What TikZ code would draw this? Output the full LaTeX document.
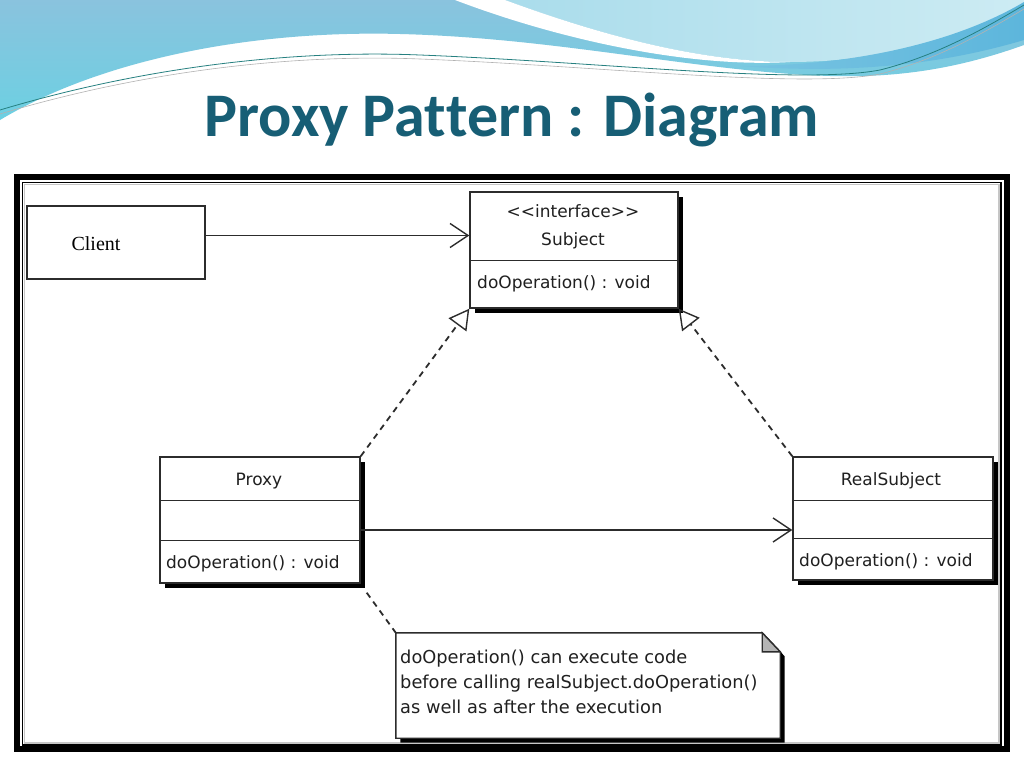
\documentclass[tikz,border=0pt]{standalone}
\usepackage{fontspec}
\setmainfont{DejaVu Sans}
\newfontfamily\titlefont{Carlito}
\newfontfamily\clientfont{Liberation Serif}
\usetikzlibrary{arrows.meta,shadows}

\definecolor{titleteal}{HTML}{175E75}
\definecolor{umlgray}{HTML}{2C2C2C}
\definecolor{umltext}{HTML}{202020}
\definecolor{wavetop}{HTML}{8AC3DE}
\definecolor{wavelow}{HTML}{6CD0E2}
\definecolor{wavelight}{HTML}{B7E3EE}
\definecolor{waveband}{HTML}{5DB6DC}
\definecolor{foldgray}{HTML}{B4B4B4}

\tikzset{
  classbox/.style={draw=umlgray, line width=1.4pt, fill=white, inner sep=0pt,
    general shadow={fill=black, shadow xshift=4.5pt, shadow yshift=-4.5pt}},
  plainbox/.style={draw=umlgray, line width=1.4pt, fill=white, inner sep=0pt},
  divider/.style={draw=umlgray, line width=1.4pt},
  classtext/.style={font=\fontsize{17}{19}\selectfont, text=umltext, inner sep=0pt},
  assoc/.style={draw=umlgray, line width=1.4pt, -{Straight Barb[length=18pt, width=24pt]}},
  realize/.style={draw=umlgray, line width=1.8pt, dash pattern=on 6pt off 5pt,
    -{Triangle[open, length=20pt, width=22pt, line width=1.4pt, sep=0pt]}},
  notelink/.style={draw=umlgray, line width=1.8pt, dash pattern=on 6pt off 5pt},
}

\begin{document}
\begin{tikzpicture}[x=1pt,y=-1pt]
\useasboundingbox (0,0) rectangle (1024,768);
% Background
\fill[white] (0,0) rectangle (1024,768);
\shade[top color=wavetop, bottom color=wavelow]
  (0,0) -- (1024,0) -- (1024,45) .. controls (960,68) and (900,78) .. (830,76)
  .. controls (700,72) and (560,38) .. (400,34)
  .. controls (250,30) and (100,60) .. (0,120) -- cycle;
\shade[left color=wavelight!85!waveband, right color=wavelight!70]
  (505,0) .. controls (600,35) and (700,62) .. (790,62)
  .. controls (890,62) and (970,35) .. (1024,5) -- (1024,0) -- cycle;
\fill[white] (455,0) -- (505,0) .. controls (600,35) and (700,62) .. (790,62)
  .. controls (690,68) and (560,40) .. (455,0) -- cycle;
\shade[left color=waveband!70!wavelight, right color=waveband]
  (740,66) .. controls (860,66) and (960,40) .. (1024,2) -- (1024,40)
  .. controls (950,62) and (860,75) .. (740,66) -- cycle;
% Thin swoosh lines
\draw[teal!70!gray, line width=0.8pt] (0,110) .. controls (150,65) and (300,50) .. (420,55)
  .. controls (600,62) and (800,85) .. (880,70) .. controls (940,55) and (990,25) .. (1024,5);
\draw[gray!60, line width=0.6pt] (0,114) .. controls (150,69) and (300,54) .. (420,59)
  .. controls (600,66) and (800,89) .. (880,74) .. controls (940,59) and (990,29) .. (1024,9);

% Title
\node[font=\titlefont\bfseries\fontsize{62}{66}\selectfont, text=titleteal, anchor=base]
  (title) at (512,136) {Proxy Pat\kern0pt tern : Diagram};

% Frame
\draw[line width=6pt] (17,177) rectangle (1007,749);
\draw[line width=1.4pt] (22.5,182.5) rectangle (1001,745);
\draw[gray!45, line width=1.5pt] (24.5,184.5) rectangle (999,743);

% Classes
\node[plainbox, minimum width=178pt, minimum height=73pt] (client) at (116,242.5) {};
\node[classbox, minimum width=208pt, minimum height=116pt] (subject) at (574,250) {};
\node[classbox, minimum width=200pt, minimum height=126pt] (proxy) at (260,520) {};
\node[classbox, minimum width=200pt, minimum height=123pt] (real) at (893,518.5) {};

% Compartments
\draw[divider] ([yshift=-69pt]subject.north west) -- ([yshift=-69pt]subject.north east);
\foreach \d in {44,84}
  \draw[divider] ([yshift=-\d pt]proxy.north west) -- ([yshift=-\d pt]proxy.north east);
\foreach \d in {44,82}
  \draw[divider] ([yshift=-\d pt]real.north west) -- ([yshift=-\d pt]real.north east);

% Class texts
\node[font=\clientfont\fontsize{20}{22}\selectfont, text=black, inner sep=0pt, anchor=base]
  (clientname) at (96,250) {Client};
\node[classtext, anchor=base] (subjstereo) at (573,217) {<\kern0pt<interface>\kern0pt>};
\node[classtext, anchor=base] (subjname) at (573,245) {Subject};
\node[classtext, anchor=base west] (subjop) at (477,288) {doOperation() : void};
\node[classtext, anchor=base] (proxyname) at (259,485) {Proxy};
\node[classtext, anchor=base west] (proxyop) at (166,568) {doOperation() : void};
\node[classtext, anchor=base] (realname) at (891,485) {RealSubject};
\node[classtext, anchor=base west] (realop) at (799,566) {doOperation() : void};

% Note
\node[minimum width=384pt, minimum height=105pt, inner sep=0pt] (note) at (588,685.5) {};
\fill[black] ([shift={(4.5pt,-4.5pt)}]note.north west) -- ([shift={(-13.5pt,-4.5pt)}]note.north east)
  -- ([shift={(4.5pt,-23.5pt)}]note.north east) -- ([shift={(4.5pt,-4.5pt)}]note.south east)
  -- ([shift={(4.5pt,-4.5pt)}]note.south west) -- cycle;
\draw[plainbox] (note.north west) -- ([xshift=-18pt]note.north east)
  -- ([yshift=-19pt]note.north east) -- (note.south east) -- (note.south west) -- cycle;
\filldraw[fill=foldgray, draw=umlgray, line width=1.4pt] ([xshift=-18pt]note.north east)
  -- ([xshift=-18pt, yshift=-19pt]note.north east) -- ([yshift=-19pt]note.north east) -- cycle;
\foreach \i/\txt in {0/{doOperation() can execute code},
                     1/{before calling realSubject.doOperation()},
                     2/{as well as after the execution}}
  \node[classtext, font=\fontsize{17.8}{19}\selectfont, anchor=base west] (noteline\i)
    at (400,663+25*\i) {\txt};

% Connectors
\draw[assoc] ([yshift=7pt]client.east) -- ([yshift=7pt]client.east -| subject.west);
\draw[assoc] ([yshift=-10pt]proxy.east) -- ([yshift=-10pt]proxy.east -| real.west);
\draw[realize] (proxy.north east) -- (subject.south west);
\draw[realize] (real.north west) -- (subject.south east);
\draw[notelink] ([shift={(6pt,-9pt)}]proxy.south east) -- (note.north west);
\end{tikzpicture}
\end{document}
